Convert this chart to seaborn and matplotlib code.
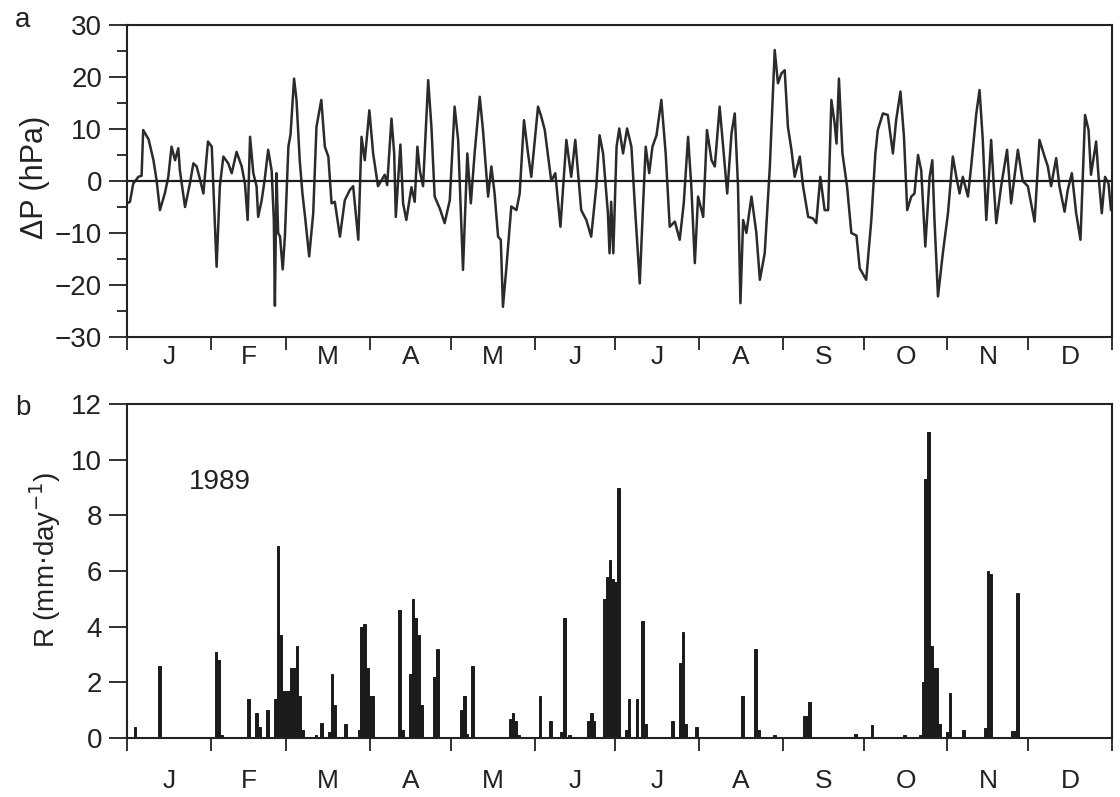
import numpy as np
import pandas as pd
import matplotlib.pyplot as plt
import seaborn as sns

# panel a: pressure anomaly trace (day of year, hPa)
dp_day = [0, 1.1, 2.3, 4.2, 5.4, 6.0, 8.0, 9.8, 11.0, 12.2, 14.0, 15.3, 16.5, 17.8, 19.0, 19.6,
          21.5, 23.3, 24.6, 25.8, 26.8, 28.3, 30.0, 31.4, 33.2, 34.4, 35.7, 37.5, 38.8, 40.6,
          42.5, 43.7, 44.7, 45.6, 46.8, 48.0, 48.6, 49.9, 51.0, 52.3, 53.6, 54.4, 54.8, 55.4,
          56.0, 56.7, 57.7, 58.5, 59.8, 60.6, 61.9, 62.8, 64.0, 65.0, 66.0, 67.5, 69.0, 70.2,
          72.0, 73.3, 74.6, 75.8, 77.0, 78.9, 80.7, 82.6, 83.8, 85.7, 86.9, 88.1, 89.8, 91.2,
          93.0, 95.5, 96.4, 98.0, 99.0, 99.6, 101.3, 102.3, 103.5, 105.4, 106.6, 107.6, 108.5,
          109.7, 111.6, 112.8, 114.0, 115.9, 117.7, 119.6, 121.4, 122.7, 124.5, 126.1, 127.4,
          128.8, 130.7, 131.9, 133.8, 135.0, 136.2, 137.5, 138.5, 139.3, 140.6, 142.4, 144.3,
          145.5, 147.1, 148.6, 149.8, 152.3, 153.5, 154.8, 157.2, 158.7, 160.6, 162.8, 164.6,
          166.1, 168.3, 170.2, 172.0, 173.9, 175.1, 176.4, 178.2, 178.8, 179.4, 180.2, 181.4,
          182.4, 183.8, 185.3, 186.9, 188.2, 190.0, 191.2, 192.2, 193.5, 194.7, 196.2, 198.0,
          199.6, 201.1, 203.0, 204.8, 206.3, 207.9, 209.1, 210.4, 211.6, 213.5, 214.9, 216.6,
          217.8, 219.6, 220.9, 222.4, 224.0, 225.2, 226.4, 227.3, 228.3, 229.5, 231.4, 233.2,
          234.5, 236.3, 238.2, 240.0, 241.2, 242.5, 243.7, 244.9, 246.2, 247.4, 249.3, 250.5,
          252.4, 254.2, 255.4, 256.9, 258.5, 259.8, 261.0, 262.2, 262.9, 263.8, 265.1, 266.8,
          268.4, 270.3, 271.5, 273.9, 275.8, 277.3, 278.2, 280.1, 281.9, 283.8, 285.0, 286.6,
          287.9, 289.1, 290.6, 291.8, 293.1, 294.3, 295.8, 297.4, 298.4, 299.2, 300.5, 302.3,
          304.2, 306.0, 307.3, 308.5, 309.7, 311.6, 312.8, 314.7, 315.9, 317.1, 318.4, 320.2,
          321.2, 322.1, 323.9, 326.1, 327.6, 330.1, 331.9, 333.8, 336.3, 338.1, 340.0, 341.2,
          342.4, 344.3, 345.5, 347.4, 348.6, 350.1, 351.7, 353.3, 355.0, 356.3, 357.2, 359.1,
          359.9, 361.2, 362.4, 363.7, 364.6]
dp_val = [-4.3, -4, -0.5, 0.8, 1, 9.8, 8, 4, 0, -5.6, -2.4, 0.8, 6.6, 4, 6.3, 2,
          -5, -0.5, 3.4, 2.8, 0.8, -2.4, 7.6, 6.6, -16.5, -1, 4.7, 3.4, 1.5, 5.6,
          2.8, -0.5, -7.5, 8.5, 1.5, -1, -6.9, -3.7, 0.2, 6, 2, -7.5, -24, 1.5,
          -10, -10.7, -17, -10.7, 6.6, 9, 19.7, 15.6, 4, -2.4, -7, -14.5, -6.2, 10.4,
          15.6, 6.6, 4.7, -4.3, -4, -10.7, -3.7, -1.7, -1, -11.3, 8.5, 4, 13.6, 5.3,
          -1, 1.2, -0.8, 12, 5.3, -6.9, 7, -4.3, -7.5, -1.2, -4, 6.6, 2,
          -1, 19.4, 10.4, -3, -5.3, -8.1, -3.7, 14.3, 7.9, -17.1, 5.3, -4.3,
          5.3, 16.2, 9.8, -3, 2.8, -2.4, -10.7, -11.3, -24.2, -16.5, -4.9, -5.6,
          -2.4, 11.7, 5.3, 0.8, 14.3, 12.4, 9.8, 0, 1.5, -8.8, 7.9, 0.8,
          7.9, -5.6, -7.5, -10.7, -1, 8.8, 5.3, -6.2, -13.9, -4, -13.9, 6.6,
          10.1, 5.3, 10.1, 6.6, -4.9, -19.7, -4.9, 6.6, 1.5, 6.6, 8.8, 15.6,
          5.3, -8.8, -7.8, -11.3, -4.3, 8.5, -1, -15.8, -3, -6.9, 9.8, 4,
          2.8, 14.3, 6.6, -2.4, 9.2, 13, -1, -23.5, -7.5, -10, -3, -10,
          -19, -13.9, 2.8, 25.2, 18.8, 20.7, 21.3, 10.4, 6, 0.8, 4.7, -1,
          -6.9, -7.2, -8.1, 0.8, -5.6, -5.6, 15.6, 11.1, 7.2, 19.7, 5.3, -1,
          -10, -10.5, -16.8, -19, -7.5, 5.3, 9.8, 13, 12.7, 5.3, 11.7, 17.2,
          8.5, -5.6, -3, -2.4, 5, 2, -12.6, 0.8, 4, -7.5, -22.2, -13.9,
          -6.2, 4.7, 0.8, -2.4, 0.8, -3, 2.8, 13, 17.5, 7.9, -7.5, 7.9,
          -1, -8.1, -1, 6, -4.3, 6, 0, -1, -7.8, 7.9, 4.7, 2.8,
          -1, 4.4, -1, -5.9, -1.7, 1.5, -6.2, -11.3, 12.7, 9.8, 1.2, 7.6,
          1.5, -6.2, 0.8, -0.5, -5.6]

# panel b: daily rainfall (only rainy days listed)
rain_day = [3, 12, 33, 34, 35, 45, 48, 49, 52, 55, 56, 57, 58, 59, 60, 61, 62, 63, 64, 65,
            70, 72, 75, 76, 77, 81, 86, 87, 88, 89, 90, 91, 101, 102, 105, 106, 107, 108, 109,
            114, 115, 124, 125, 126, 128, 142, 143, 144, 145, 153, 157, 161, 162, 164,
            171, 172, 173, 177, 178, 179, 180, 181, 182, 185, 186, 189, 191, 192, 202,
            205, 206, 207, 211, 218, 228, 233, 234, 240, 251, 252, 253, 270, 276, 288,
            294, 295, 296, 297, 298, 299, 300, 301, 304, 305, 310, 318, 319, 320,
            328, 329, 330]
rain_val = [0.4, 2.6, 3.1, 2.8, 0.1, 1.4, 0.9, 0.4, 1.0, 1.4, 6.9, 3.7, 1.7, 1.7, 1.7, 2.5, 2.5, 3.3, 1.5, 0.3,
            0.1, 0.55, 0.2, 2.3, 1.2, 0.5, 0.3, 4.0, 4.1, 2.5, 1.5, 1.5, 4.6, 0.3, 2.3, 5.0, 4.3, 3.7, 1.2,
            2.2, 3.2, 1.0, 1.5, 0.15, 2.6, 0.7, 0.9, 0.6, 0.1, 1.5, 0.6, 0.2, 4.3, 0.1,
            0.6, 0.9, 0.6, 5.0, 5.8, 6.4, 5.7, 5.6, 9.0, 0.3, 1.4, 1.4, 4.2, 0.5, 0.6,
            2.7, 3.8, 0.5, 0.4, 0.05, 1.5, 3.2, 0.3, 0.1, 0.8, 0.8, 1.3, 0.15, 0.45, 0.1,
            0.1, 2.0, 9.3, 11.0, 3.3, 2.5, 2.5, 0.5, 0.2, 1.6, 0.3, 0.35, 6.0, 5.9,
            0.25, 0.25, 5.2]

month_names = ['J', 'F', 'M', 'A', 'M', 'J', 'J', 'A', 'S', 'O', 'N', 'D']
month_len = [31, 28, 31, 30, 31, 30, 31, 31, 30, 31, 30, 31]

sns.set_theme(style='ticks')
plt.rcParams['font.family'] = ['Liberation Sans', 'DejaVu Sans']
ink = '#222222'
plt.rcParams['axes.edgecolor'] = ink
plt.rcParams['xtick.color'] = ink
plt.rcParams['ytick.color'] = ink
plt.rcParams['text.color'] = ink

fig = plt.figure(figsize=(11.2, 7.97), dpi=100)
ax1 = fig.add_axes([0.1134, 0.5772, 0.8795, 0.3914])
ax2 = fig.add_axes([0.1134, 0.0740, 0.8795, 0.4191])

# a) pressure
sns.lineplot(x=dp_day, y=dp_val, color='#2b2b2b', lw=1.8, ax=ax1)
ax1.axhline(0, color='#1e1e1e', lw=1.6)
ax1.set_ylim(-30, 30)
ax1.set_yticks(range(-30, 31, 10))
ax1.set_yticks(range(-25, 30, 10), minor=True)

# b) rainfall
rain = pd.DataFrame({'day': rain_day, 'R': rain_val})
sns.barplot(data=rain, x='day', y='R', native_scale=True, color='#1b1b1b', saturation=1,
            width=1, errorbar=None, linewidth=0.7, edgecolor='#1b1b1b', ax=ax2)
ax2.set_ylim(0, 12)
ax2.set_yticks(range(0, 13, 2))
ax2.text(23, 9.2, '1989', fontsize=20, va='center', ha='left')

bounds = np.cumsum([0] + month_len)
mids = bounds[:-1] + np.array(month_len) / 2
for ax, pad in ((ax1, 6), (ax2, 22)):
    ax.set_xlim(0, 365)
    ax.set_xticks(bounds)
    ax.set_xticklabels([])
    ax.set_xticks(mids, minor=True)
    ax.set_xticklabels(month_names, minor=True)
    ax.tick_params(axis='x', which='major', length=9, width=1.3, direction='out')
    ax.tick_params(axis='x', which='minor', length=0, pad=pad, labelsize=19)
    ax.tick_params(axis='y', which='major', length=13, width=1.3, labelsize=20, pad=5)
    ax.tick_params(axis='y', which='minor', length=7, width=1.3)
    ax.set_xlabel('')
    ax.set_ylabel('')
    for s in ax.spines.values():
        s.set_linewidth(1.5)

fig.text(0.031, 0.777, 'ΔP (hPa)', rotation=90, fontsize=22, ha='center', va='center')
fig.text(0.040, 0.297, r'R (mm$\cdot$day$^{-1}$)', rotation=90, fontsize=20, ha='center', va='center')
fig.text(0.020, 0.975, 'a', fontsize=20, ha='center', va='center')
fig.text(0.020, 0.488, 'b', fontsize=20, ha='center', va='center')

fig.savefig('out.png', dpi=100)
